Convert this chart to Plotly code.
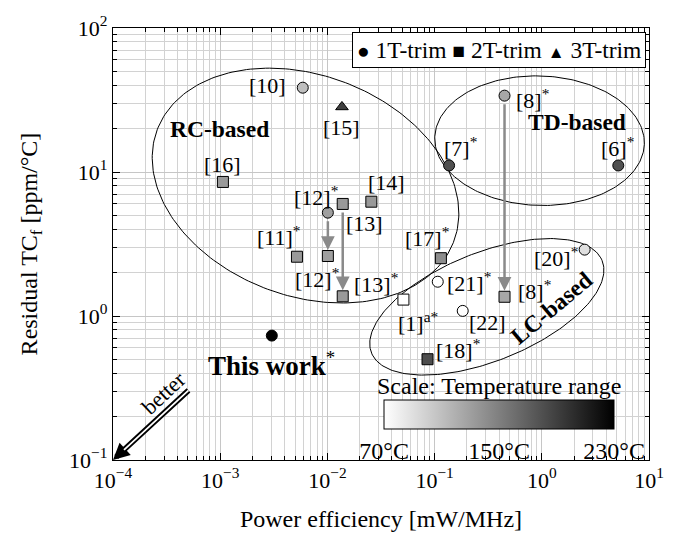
import numpy as np
import plotly.graph_objects as go

# ---------------- data ----------------
# 1T-trim designs (circles)
one_t_labels = ["This work*", "[10]", "[12]*", "[21]*", "[22]", "[20]*", "[8]*", "[7]*", "[6]*"]
one_t_power = [0.00303, 0.00589, 0.0101, 0.107, 0.183, 2.51, 0.449, 0.1365, 5.17]
one_t_tcf = [0.731, 38.5, 5.22, 1.73, 1.085, 2.89, 33.9, 11.1, 11.1]
one_t_trange = [230, 110, 130, 70, 70, 90, 125, 180, 180]

# 2T-trim designs (squares)
two_t_labels = ["[16]", "[13]", "[14]", "[11]*", "[12]*", "[13]*", "[17]*", "[1]a*", "[8]*", "[18]*"]
two_t_power = [0.00106, 0.0139, 0.0257, 0.0052, 0.0101, 0.0139, 0.1145, 0.0512, 0.449, 0.0859]
two_t_tcf = [8.53, 6.0, 6.22, 2.58, 2.61, 1.37, 2.52, 1.30, 1.36, 0.501]
two_t_trange = [134, 134, 134, 134, 130, 134, 142, 70, 125, 182]

# 3T-trim designs (triangles)
three_t_labels = ["[15]"]
three_t_power = [0.01367]
three_t_tcf = [28.3]
three_t_trange = [190]

# trim upgrades drawn as arrows: (group, index) -> (group, index)
trim_arrows = [(("1T", 2), ("2T", 4)), (("2T", 1), ("2T", 5)), (("1T", 6), ("2T", 8))]

x_ticks = [1e-4, 1e-3, 1e-2, 1e-1, 1e0, 1e1]
x_tick_text = ["10<sup>−4</sup>", "10<sup>−3</sup>", "10<sup>−2</sup>", "10<sup>−1</sup>", "10<sup>0</sup>", "10<sup>1</sup>"]
y_ticks = [1e-1, 1e0, 1e1, 1e2]
y_tick_text = ["10<sup>−1</sup>", "10<sup>0</sup>", "10<sup>1</sup>", "10<sup>2</sup>"]

trange_ticks = [70, 150, 230]
trange_tick_text = ["70°C", "150°C", "230°C"]

# ---------------- layout constants ----------------
FONT = "Liberation Serif"
W, H = 676, 539
ML, MR, MT, MB = 113, 16, 19, 73
PW, PH = W - ML - MR, H - MT - MB
XR = (-4, 1)
YR = (-1, 2)
PX_X = PW / (XR[1] - XR[0])
PX_Y = PH / (YR[1] - YR[0])

# label offsets in px (dx right, dy up) for each point
one_t_offsets = [(0, -28), (-35, 2), (-12, 17), (31, 0), (25, -12), (-29, -7), (28, -3), (11, 18), (-1, 18)]
two_t_offsets = [(0, 17), (22, -20), (15, 19), (-18, 21), (-11, -22), (33, 13), (-14, 21), (15, -22), (30, 7), (30, 10)]
three_t_offsets = [(0, -21)]

groups = {
    "1T": dict(labels=one_t_labels, x=one_t_power, y=one_t_tcf, t=one_t_trange,
               off=one_t_offsets, symbol="circle", size=11, name="1T-trim"),
    "2T": dict(labels=two_t_labels, x=two_t_power, y=two_t_tcf, t=two_t_trange,
               off=two_t_offsets, symbol="square", size=11, name="2T-trim"),
    "3T": dict(labels=three_t_labels, x=three_t_power, y=three_t_tcf, t=three_t_trange,
               off=three_t_offsets, symbol="triangle-up", size=11, name="3T-trim"),
}


def ellipse(cx, cy, a, b, ang_deg, n=240):
    """Ellipse drawn in screen space (a, b in px) around a data-space centre."""
    t = np.linspace(0, 2 * np.pi, n)
    th = np.radians(ang_deg)
    dx = a * np.cos(t) * np.cos(th) - b * np.sin(t) * np.sin(th)
    dy = a * np.cos(t) * np.sin(th) + b * np.sin(t) * np.cos(th)
    lx = np.log10(cx) + dx / PX_X
    ly = np.log10(cy) - dy / PX_Y
    return 10 ** lx, 10 ** ly


def fmt_label(s):
    if s.startswith("This work"):
        return "<b>This work</b><sup>*</sup>"
    head, _, tail = s.partition("]")
    return head + "]" + (f"<sup>{tail}</sup>" if tail else "")


def px_to_paper(px, py):
    return (px - ML) / PW, (H - MB - py) / PH


fig = go.Figure()

# family regions
regions = [
    dict(c=(0.00625, 8.05), a=162, b=114, ang=21.4),   # RC-based
    dict(c=(0.953, 16.5), a=107, b=67, ang=2.0),       # TD-based
    dict(c=(0.307, 1.158), a=127, b=56, ang=-22.2),    # LC-based
]
for r in regions:
    ex, ey = ellipse(r["c"][0], r["c"][1], r["a"], r["b"], r["ang"])
    fig.add_trace(go.Scatter(x=ex, y=ey, mode="lines", line=dict(color="black", width=1),
                             hoverinfo="skip", showlegend=False))

for key, g in groups.items():
    fig.add_trace(go.Scatter(
        x=g["x"], y=g["y"], mode="markers", name=g["name"], showlegend=False,
        text=g["labels"],
        marker=dict(symbol=g["symbol"], size=g["size"], color=g["t"], coloraxis="coloraxis",
                    line=dict(color="black", width=1)),
        hovertemplate="%{text}<br>%{x} mW/MHz<br>%{y} ppm/°C<extra>" + g["name"] + "</extra>",
    ))

annotations = []
lab_font = dict(family=FONT, size=22, color="black")
for key, g in groups.items():
    for lab, xv, yv, (dx, dy) in zip(g["labels"], g["x"], g["y"], g["off"]):
        f = dict(lab_font)
        if lab.startswith("This work"):
            f["size"] = 27
        annotations.append(dict(x=np.log10(xv), y=np.log10(yv), xref="x", yref="y",
                                text=fmt_label(lab), showarrow=False, xshift=dx, yshift=dy,
                                xanchor="center", yanchor="middle", font=f))

# trim upgrade arrows
for (g0, i0), (g1, i1) in trim_arrows:
    a, b = groups[g0], groups[g1]
    annotations.append(dict(
        x=np.log10(b["x"][i1]), y=np.log10(b["y"][i1]), xref="x", yref="y",
        ax=np.log10(a["x"][i0]), ay=np.log10(a["y"][i0]), axref="x", ayref="y",
        text="", showarrow=True, arrowhead=2, arrowsize=1.1, arrowwidth=2.5,
        arrowcolor="#8a8a8a", standoff=6, startstandoff=7))

# region names
bold_font = dict(family=FONT, size=23.5, color="black")
annotations += [
    dict(x=np.log10(0.000986), y=np.log10(19.95), xref="x", yref="y", text="<b>RC-based</b>",
         showarrow=False, font=bold_font),
    dict(x=np.log10(2.14), y=np.log10(22.1), xref="x", yref="y", text="<b>TD-based</b>",
         showarrow=False, font=bold_font),
    dict(x=np.log10(1.22), y=np.log10(1.144), xref="x", yref="y", text="<b>LC-based</b>",
         showarrow=False, font=bold_font, textangle=-40),
]

# "better" double arrow towards the origin corner
bx, by = px_to_paper(165, 396)
annotations += [
    dict(x=0, y=0, xref="paper", yref="paper", ax=77, ay=-71, text="", showarrow=True,
         arrowhead=2, arrowsize=0.6, arrowwidth=5.5, arrowcolor="black"),
    dict(x=0, y=0, xref="paper", yref="paper", ax=77, ay=-71, text="", showarrow=True,
         arrowhead=0, arrowwidth=1.8, arrowcolor="white", standoff=15),
    dict(x=bx, y=by, xref="paper", yref="paper", xanchor="center", yanchor="middle",
         text="better", showarrow=False, textangle=-43, font=dict(family=FONT, size=22, color="black")),
]

# colour scale caption
sx, sy = px_to_paper(507, 389)
annotations.append(dict(x=sx, y=sy, xref="paper", yref="paper", xanchor="center", yanchor="middle",
                        text="Scale: Temperature range",
                        showarrow=False, font=dict(family=FONT, size=24, color="black")))

# marker key
annotations.append(dict(
    x=0.9945, y=0.991, xref="paper", yref="paper", xanchor="right", yanchor="top",
    text="<span style='font-size:21px'>●</span> 1T-trim <span style='font-size:21px'>■</span> 2T-trim "
         "<span style='font-size:17px'>▲</span> 3T-trim",
    showarrow=False, bgcolor="white", bordercolor="black", borderwidth=1, borderpad=4,
    font=dict(family=FONT, size=23.5, color="black")))

minor_x = [k * 10.0 ** e for e in range(-4, 1) for k in range(2, 10)]
minor_y = [k * 10.0 ** e for e in range(-1, 2) for k in range(2, 10)]

axis_common = dict(
    type="log", showline=True, linecolor="black", linewidth=1.3, mirror="allticks",
    ticks="inside", ticklen=7, tickcolor="black", tickwidth=1,
    showgrid=True, gridcolor="#c6c6c6", gridwidth=1, zeroline=False,
    tickfont=dict(family=FONT, size=22, color="black"),
    tickmode="array",
)

cb_x, _ = px_to_paper(507, 0)
fig.update_layout(
    width=W, height=H,
    margin=dict(l=ML, r=MR, t=MT, b=MB),
    paper_bgcolor="white", plot_bgcolor="white",
    xaxis=dict(axis_common, range=list(XR), tickvals=x_ticks, ticktext=x_tick_text,
               minor=dict(tickmode="array", tickvals=minor_x, ticks="inside", ticklen=4,
                          tickcolor="black", showgrid=True, gridcolor="#d2d2d2", gridwidth=1),
               title=dict(text="Power efficiency [mW/MHz]", standoff=18,
                          font=dict(family=FONT, size=24, color="black"))),
    yaxis=dict(axis_common, range=list(YR), tickvals=y_ticks, ticktext=y_tick_text,
               minor=dict(tickmode="array", tickvals=minor_y, ticks="inside", ticklen=4,
                          tickcolor="black", showgrid=True, gridcolor="#d2d2d2", gridwidth=1),
               title=dict(text="Residual TC<sub>f</sub> [ppm/°C]", standoff=24,
                          font=dict(family=FONT, size=24, color="black"))),
    coloraxis=dict(
        cmin=70, cmax=230, colorscale=[[0, "#ffffff"], [1, "#000000"]],
        colorbar=dict(
            orientation="h", x=cb_x, xanchor="center",
            y=0.01, yanchor="bottom", len=235 / PW, lenmode="fraction",
            thickness=29, outlinecolor="black", outlinewidth=1, xpad=0, ypad=0,
            tickvals=trange_ticks, ticktext=trange_tick_text, ticks="",
            tickfont=dict(family=FONT, size=24, color="black"),
            bgcolor="rgba(0,0,0,0)",
        ),
    ),
    annotations=annotations,
    showlegend=False,
)

fig.write_html("out.html")
